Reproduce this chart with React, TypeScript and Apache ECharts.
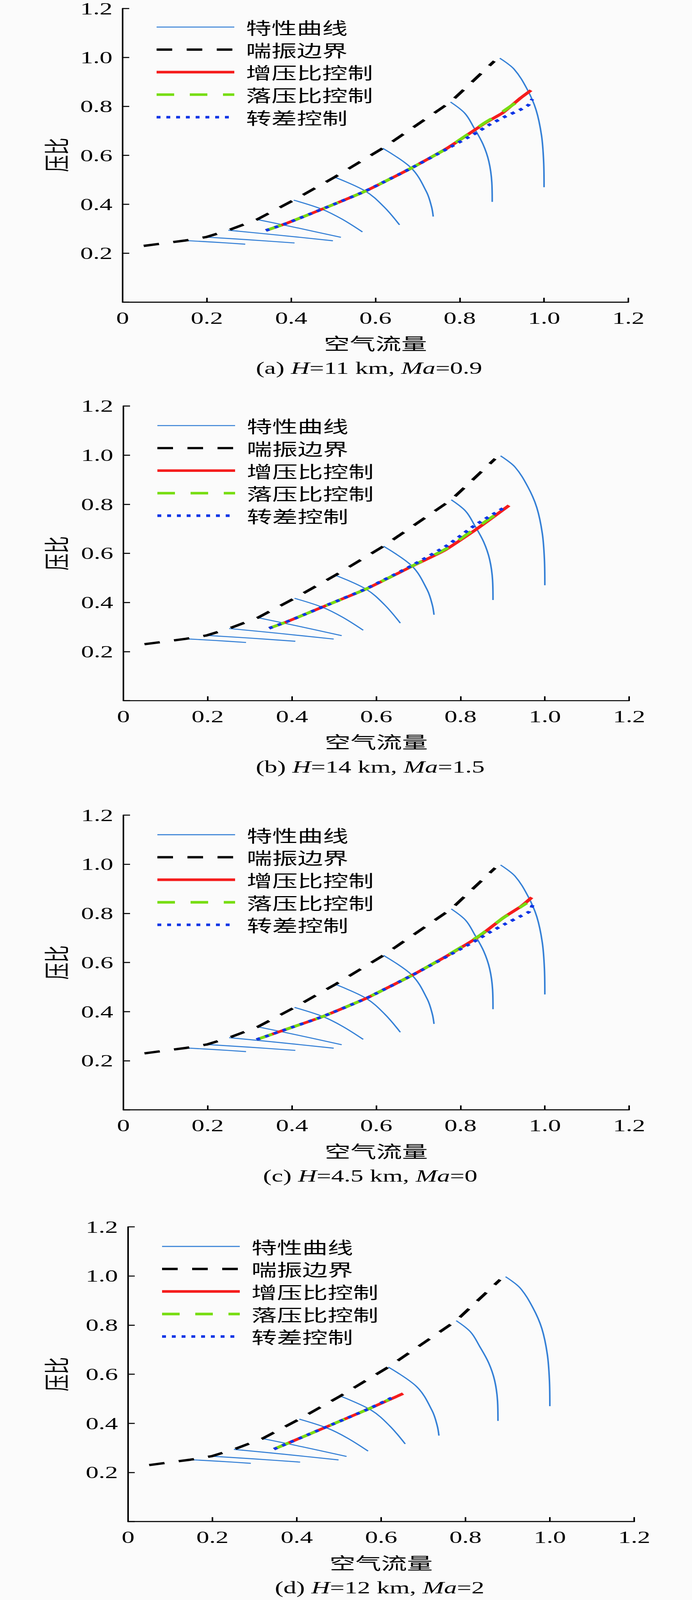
import React, { useEffect, useRef } from 'react';
import * as echarts from 'echarts';

type Pt = [number, number];

// 等转速特性曲线（四个工况共用）
const speedLine1: Pt[] = [[0.148, 0.252], [0.22, 0.245], [0.291, 0.237]];
const speedLine2: Pt[] = [[0.198, 0.266], [0.30, 0.255], [0.408, 0.242]];
const speedLine3: Pt[] = [[0.251, 0.294], [0.37, 0.274], [0.499, 0.251]];
const speedLine4: Pt[] = [[0.319, 0.338], [0.414, 0.304], [0.518, 0.265]];
const speedLine5: Pt[] = [[0.406, 0.417], [0.473, 0.38], [0.52, 0.34], [0.569, 0.287]];
const speedLine6: Pt[] = [[0.503, 0.511], [0.576, 0.454], [0.62, 0.39], [0.657, 0.316]];
const speedLine7: Pt[] = [[0.617, 0.629], [0.685, 0.548], [0.721, 0.451], [0.733, 0.39], [0.737, 0.35]];
const speedLine8: Pt[] = [[0.778, 0.818], [0.812, 0.772], [0.833, 0.715], [0.855, 0.646], [0.869, 0.575], [0.876, 0.49], [0.877, 0.41]];
const speedLine9: Pt[] = [[0.895, 0.997], [0.929, 0.952], [0.96, 0.87], [0.981, 0.786], [0.994, 0.681], [0.999, 0.575], [1.0, 0.47]];
const speedLines = [speedLine1, speedLine2, speedLine3, speedLine4, speedLine5, speedLine6, speedLine7, speedLine8, speedLine9];

// 喘振边界
const surgeLine: Pt[] = [
  [0.05, 0.23], [0.148, 0.252], [0.198, 0.266], [0.251, 0.294], [0.319, 0.338],
  [0.406, 0.417], [0.503, 0.511], [0.617, 0.629], [0.778, 0.818], [0.882, 0.985],
];

// (a) H=11 km, Ma=0.9
const boostA: Pt[] = [[0.34, 0.293], [0.39, 0.323], [0.473, 0.38], [0.576, 0.454], [0.685, 0.548], [0.768, 0.627], [0.827, 0.694], [0.858, 0.73], [0.902, 0.774], [0.944, 0.834], [0.969, 0.866]];
const dropA: Pt[] = [[0.34, 0.293], [0.39, 0.323], [0.473, 0.38], [0.576, 0.454], [0.685, 0.548], [0.768, 0.627], [0.827, 0.695], [0.858, 0.732], [0.892, 0.767], [0.926, 0.807], [0.957, 0.842]];
const slipA: Pt[] = [[0.34, 0.293], [0.39, 0.323], [0.473, 0.38], [0.576, 0.454], [0.685, 0.548], [0.768, 0.625], [0.835, 0.688], [0.87, 0.725], [0.907, 0.758], [0.944, 0.787], [0.963, 0.806], [0.972, 0.83]];

// (b) H=14 km, Ma=1.5
const boostB: Pt[] = [[0.346, 0.295], [0.39, 0.323], [0.473, 0.382], [0.576, 0.455], [0.682, 0.545], [0.762, 0.612], [0.839, 0.7], [0.915, 0.795]];
const dropB: Pt[] = [[0.346, 0.295], [0.39, 0.323], [0.473, 0.382], [0.576, 0.455], [0.682, 0.546], [0.765, 0.618], [0.837, 0.704], [0.904, 0.782]];
const slipB: Pt[] = [[0.346, 0.295], [0.39, 0.323], [0.473, 0.382], [0.576, 0.456], [0.682, 0.548], [0.768, 0.632], [0.833, 0.713], [0.904, 0.787]];

// (c) H=4.5 km, Ma=0
const boostC: Pt[] = [[0.316, 0.286], [0.378, 0.323], [0.473, 0.38], [0.576, 0.454], [0.685, 0.548], [0.768, 0.627], [0.843, 0.705], [0.902, 0.783], [0.944, 0.829], [0.969, 0.865]];
const dropC: Pt[] = [[0.316, 0.286], [0.378, 0.323], [0.473, 0.38], [0.576, 0.454], [0.685, 0.548], [0.768, 0.628], [0.843, 0.707], [0.9, 0.78], [0.93, 0.812], [0.957, 0.842]];
const slipC: Pt[] = [[0.316, 0.286], [0.378, 0.323], [0.473, 0.38], [0.576, 0.454], [0.685, 0.548], [0.768, 0.625], [0.835, 0.688], [0.87, 0.724], [0.907, 0.758], [0.944, 0.79], [0.963, 0.807], [0.971, 0.834]];

// (d) H=12 km, Ma=2
const boostD: Pt[] = [[0.346, 0.295], [0.471, 0.386], [0.572, 0.46], [0.652, 0.521]];
const dropD: Pt[] = [[0.346, 0.295], [0.471, 0.386], [0.572, 0.46], [0.619, 0.497]];
const slipD: Pt[] = [[0.346, 0.295], [0.471, 0.386], [0.572, 0.46], [0.625, 0.504]];

const legendNames = ['特性曲线', '喘振边界', '增压比控制', '落压比控制', '转差控制'];

interface PanelCfg {
  height: number;
  gridTop: number;
  axisLeft: number;
  axisWidth: number;
  caption: string;
  captionX: number;
  boost: Pt[];
  drop: Pt[];
  slip: Pt[];
}

const panels: PanelCfg[] = [
  { height: 1509, gridTop: 29, axisLeft: 314, axisWidth: 1295, caption: '(a) {i|H}=11 km, {i|Ma}=0.9', captionX: 945, boost: boostA, drop: dropA, slip: slipA },
  { height: 1580, gridTop: 59, axisLeft: 316, axisWidth: 1295, caption: '(b) {i|H}=14 km, {i|Ma}=1.5', captionX: 948, boost: boostB, drop: dropB, slip: slipB },
  { height: 1590, gridTop: 59, axisLeft: 316, axisWidth: 1295, caption: '(c) {i|H}=4.5 km, {i|Ma}=0', captionX: 948, boost: boostC, drop: dropC, slip: slipC },
  { height: 1500, gridTop: 59, axisLeft: 328, axisWidth: 1296, caption: '(d) {i|H}=12 km, {i|Ma}=2', captionX: 972, boost: boostD, drop: dropD, slip: slipD },
];

const PAGE_W = 1772;
const PAGE_H = 6179;
const FONT = "'Liberation Serif', 'Times New Roman', 'Noto Sans CJK SC', serif";
const CJK = "'Noto Sans CJK SC', 'Liberation Serif', serif";
const GRID_H = 1138;

function buildOption(cfg: PanelCfg): echarts.EChartsOption {
  const axisCommon = {
    type: 'value' as const,
    min: 0,
    max: 1.2,
    interval: 0.2,
    axisLine: { show: true, lineStyle: { color: '#000', width: 4 } },
    axisTick: { show: true, inside: true, length: 17, lineStyle: { color: '#000', width: 4 } },
    splitLine: { show: false },
  };
  const top = cfg.gridTop;

  return {
    animation: false,
    backgroundColor: 'transparent',
    grid: { left: cfg.axisLeft, top, width: cfg.axisWidth, height: GRID_H },
    legend: {
      orient: 'vertical',
      left: cfg.axisLeft + 82,
      top: top + 43,
      padding: 0,
      itemWidth: 199,
      itemHeight: 4,
      itemGap: 22,
      selectedMode: false,
      data: legendNames,
      itemStyle: { opacity: 0 },
      lineStyle: { width: 'inherit' } as any,
      textStyle: { fontSize: 65, lineHeight: 65, fontFamily: CJK, color: '#000', padding: [0, 0, 0, 25] },
    },
    xAxis: {
      ...axisCommon,
      axisLabel: {
        fontSize: 66,
        fontFamily: FONT,
        color: '#000',
        margin: 28,
        showMinLabel: true,
        showMaxLabel: true,
        formatter: (v: number) => (v === 0 ? '0' : v.toFixed(1)),
      },
    },
    yAxis: {
      ...axisCommon,
      axisLabel: {
        fontSize: 66,
        fontFamily: FONT,
        color: '#000',
        margin: 26,
        padding: [12, 0, 0, 0],
        formatter: (v: number) => (v === 0 ? '' : v.toFixed(1)),
      },
    },
    series: [
      ...speedLines.map((d) => ({
        name: '特性曲线',
        type: 'line' as const,
        data: d,
        smooth: 0.35,
        symbol: 'none',
        lineStyle: { color: '#3580d6', width: 4 },
        itemStyle: { color: '#3580d6' },
      })),
      {
        name: '喘振边界',
        type: 'line',
        data: surgeLine,
        symbol: 'none',
        lineStyle: { color: '#000', width: 9, type: [40, 37] },
        itemStyle: { color: '#000' },
      },
      {
        name: '增压比控制',
        type: 'line',
        data: cfg.boost,
        smooth: 0.15,
        symbol: 'none',
        lineStyle: { color: '#f51d1d', width: 10 },
        itemStyle: { color: '#f51d1d' },
      },
      {
        name: '落压比控制',
        type: 'line',
        data: cfg.drop,
        smooth: 0.15,
        symbol: 'none',
        lineStyle: { color: '#77dd11', width: 10, type: [45, 40] },
        itemStyle: { color: '#77dd11' },
      },
      {
        name: '转差控制',
        type: 'line',
        data: cfg.slip,
        smooth: 0.15,
        symbol: 'none',
        lineStyle: { color: '#0f35e6', width: 10, type: [10, 15] },
        itemStyle: { color: '#0f35e6' },
      },
    ],
    graphic: [
      {
        type: 'text',
        x: 141,
        y: top + GRID_H / 2,
        rotation: Math.PI / 2,
        style: { text: '压比', fontSize: 66, fontFamily: CJK, fill: '#000', align: 'center', verticalAlign: 'middle' },
      },
      {
        type: 'text',
        x: cfg.axisLeft + cfg.axisWidth / 2,
        y: top + GRID_H + 156,
        style: { text: '空气流量', fontSize: 66, fontFamily: CJK, fill: '#000', align: 'center', verticalAlign: 'middle' },
      },
      {
        type: 'text',
        x: cfg.captionX,
        y: top + GRID_H + 255,
        style: {
          text: cfg.caption,
          fontSize: 66,
          fontFamily: FONT,
          fill: '#000',
          align: 'center',
          verticalAlign: 'middle',
          rich: { i: { fontSize: 66, fontFamily: FONT, fontStyle: 'italic', fill: '#000' } },
        } as any,
      },
    ],
  };
}

const Panel: React.FC<{ cfg: PanelCfg }> = ({ cfg }) => {
  const chartRef = useRef<HTMLDivElement>(null);

  useEffect(() => {
    if (!chartRef.current) return;
    const chart = echarts.init(chartRef.current, undefined, { renderer: 'svg' });
    chart.setOption(buildOption(cfg));
    return () => {
      chart.dispose();
    };
  }, [cfg]);

  return <div ref={chartRef} style={{ width: PAGE_W, height: cfg.height }} />;
};

const App: React.FC = () => {
  // 浏览器窗口高度不足 6179 时，纵向压缩整页以完整显示四幅子图
  const sy = Math.min(1, (window.innerHeight || PAGE_H) / PAGE_H);
  return (
    <div style={{ position: 'fixed', left: 0, top: 0, width: PAGE_W, height: PAGE_H * sy, overflow: 'hidden', background: '#fbfbfb' }}>
      <div style={{ width: PAGE_W, height: PAGE_H, transform: `scale(1, ${sy})`, transformOrigin: '0 0' }}>
        {panels.map((p, i) => (
          <Panel key={i} cfg={p} />
        ))}
      </div>
    </div>
  );
};

export default App;
